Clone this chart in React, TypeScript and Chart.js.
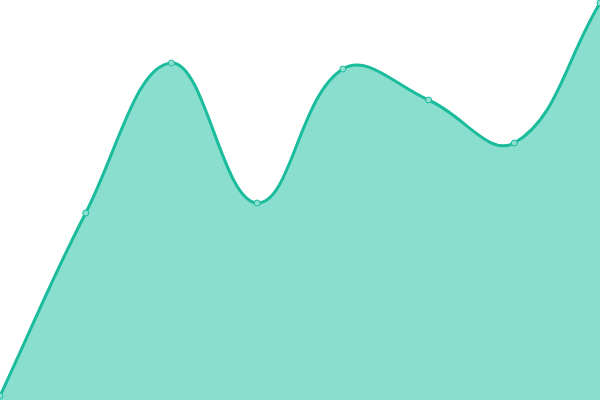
import React, { useEffect, useRef } from "react";
import { Chart, registerables } from "chart.js";

Chart.register(...registerables);

const labels: string[] = ["1", "2", "3", "4", "5", "6", "7", "8"];
const values: number[] = [1, 46.75, 84.25, 49.25, 82.75, 75, 64.25, 99.25];
const yMin = 0;
const yMax = 100;

export default function App() {
  const ref = useRef<HTMLCanvasElement | null>(null);
  useEffect(() => {
    if (!ref.current) return;
    const chart = new Chart(ref.current, {
      type: "line",
      data: {
        labels,
        datasets: [
          {
            data: values,
            fill: true,
            backgroundColor: "rgba(26,190,158,0.51)",
            borderColor: "#1abc9c",
            borderWidth: 3,
            tension: 0.4,
            pointRadius: 3,
            pointBorderWidth: 1,
            pointBackgroundColor: "#8de0d0",
            pointBorderColor: "#1abc9c",
          },
        ],
      },
      options: {
        animation: false,
        responsive: false,
        maintainAspectRatio: false,
        layout: { padding: 0, autoPadding: false },
        plugins: { legend: { display: false }, tooltip: { enabled: false } },
        scales: {
          x: { display: false, offset: false },
          y: { display: false, min: yMin, max: yMax },
        },
      },
    });
    return () => chart.destroy();
  }, []);
  return (
    <div style={{ position: "fixed", left: 0, top: 0, width: 600, height: 400 }}>
      <canvas ref={ref} width={600} height={400} style={{ width: 600, height: 400 }} />
    </div>
  );
}
